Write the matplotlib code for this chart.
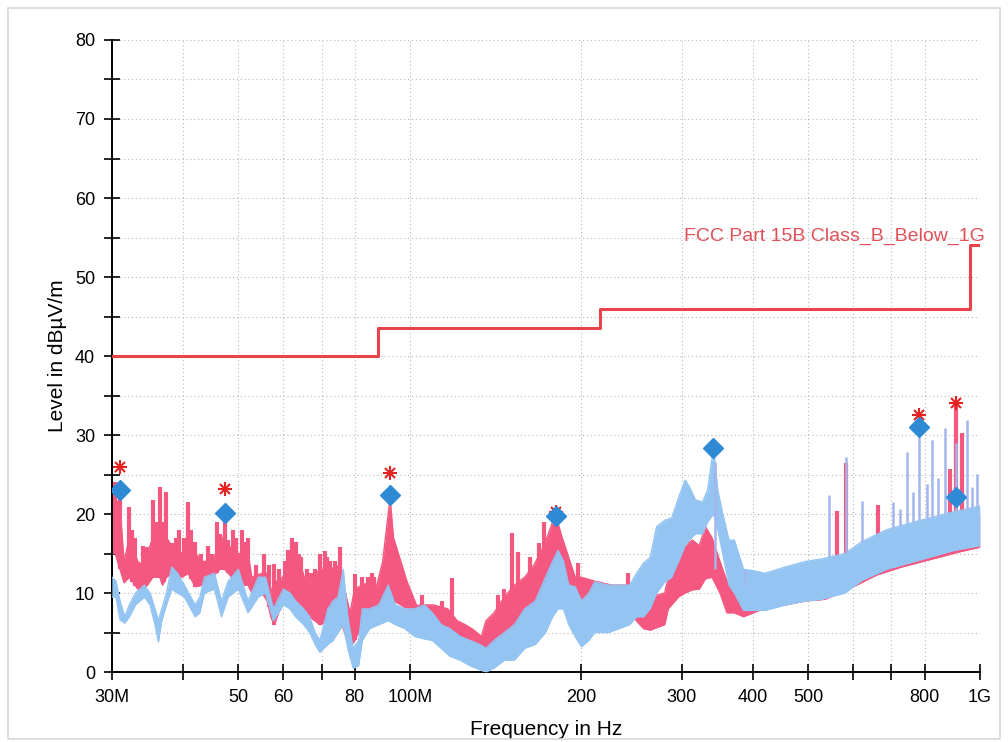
import numpy as np
import matplotlib
matplotlib.use("Agg")
import matplotlib.pyplot as plt
from matplotlib.ticker import NullLocator, FixedLocator
from matplotlib.patches import Rectangle

plt.rcParams['font.family'] = ['Liberation Sans', 'DejaVu Sans']

# ---- data (frequency in MHz, level in dBuV/m) ----
# horizontal trace (pink): noise floor envelope low / high
pink_f = [30.0, 30.4, 31.0, 31.5, 32.2, 33.3, 34.0, 34.6, 35.4, 36.4, 36.8, 37.4, 38.2,
          39.8, 40.8, 42.0, 43.3, 45.0, 46.4, 47.3, 48.0, 50.0, 52.0, 52.8, 55.0, 56.2,
          57.0, 57.8, 59.2, 60.3, 62.2, 64.4, 65.8, 66.7, 69.5, 72.3, 75.3, 76.8, 78.5,
          80.0, 82.5, 85.8, 87.5, 89.6, 91.6, 92.3, 93.6, 96.4, 98.8, 102.8, 105, 110,
          116.5, 121, 125, 129, 133.5, 136, 140.5, 146.5, 152.5, 159, 165, 172, 176, 180,
          185, 190, 195, 200, 211, 226, 241, 246, 257, 264, 280, 284, 296, 304, 313, 322,
          330, 339, 350, 360, 371, 385, 410, 449, 495, 535, 600, 660, 730, 845, 920, 1000]
pink_hi = [21, 22, 21, 14, 17, 14, 13.5, 15, 17, 17.5, 14, 17, 16,
           15, 17, 15, 14, 14, 16, 17.5, 16, 15, 15, 12, 12.5, 12.5,
           10, 11.5, 11.5, 12.5, 14, 13.5, 11, 11.5, 13, 13, 13.5, 10.5, 7.5,
           10.5, 11, 11.5, 11, 14, 20, 22, 17, 14, 11.5, 8.4, 8.5, 8.5,
           8, 6.5, 6, 5.4, 4.5, 6.5, 7.5, 9.5, 11, 12, 13.5, 16, 18, 20,
           17, 14.5, 12, 12, 11.5, 11, 11, 10.2, 10, 9.5, 10, 12, 14, 16, 16.7, 16,
           18.4, 17, 14, 11.5, 11, 10, 11, 12, 12.5, 13, 15, 16, 17, 18.5, 19.5, 20]
pink_lo = [16, 15, 13, 11.3, 12, 10.5, 10.5, 11, 12, 12, 11, 12, 12.5,
           12, 12.5, 10.8, 11, 12, 13, 13, 12.5, 11, 11, 10, 10, 9,
           7, 6, 8, 9, 9, 8, 7.5, 7, 6, 6.5, 7, 5, 3,
           4, 6, 7, 7, 8, 9, 10, 9, 8.5, 8, 6.5, 6, 5.5,
           4.5, 4, 3.5, 2.5, 2, 2.5, 3, 4, 5, 6, 7, 8.5, 10, 12,
           11, 9, 7.5, 8.4, 8.5, 8.5, 8, 7, 5.5, 5.3, 6, 8, 9.5, 10, 10.4, 10.5,
           11.8, 12, 10, 7.5, 7.5, 7, 7.8, 8.4, 9.0, 9.2, 10.8, 12.3, 13.3, 14.5, 15.2, 15.8]

# narrow spikes of the pink trace (tops)
pink_spike_f = [30.4, 31.0, 32.2, 32.6, 33.0, 34.0, 34.6, 35.4, 35.8, 36.4, 37.0, 37.4,
                38.2, 38.9, 39.3, 40.2, 40.8, 41.3, 42.0, 43.0, 44.2, 45.0, 45.8, 46.4,
                47.3, 48.0, 48.9, 49.5, 50.8, 51.5, 52.0, 53.8, 55.5, 56.5, 57.8, 59.0,
                60.3, 61.0, 62.2, 63.0, 63.8, 64.4, 66.0, 67.0, 68.2, 69.5, 70.9, 71.5,
                72.3, 73.8, 74.5, 75.3, 80.0, 82.5, 84.3, 85.8, 86.5,
                105, 114, 118.5, 142.5, 146.5, 151, 154.5, 162.5, 168.5, 172, 197, 241,
                561, 582, 662, 886, 908, 930]
pink_spike_v = [24, 22.6, 20.9, 18, 17, 16, 15.8, 21.8, 19, 23.4, 19, 22.8,
                16.3, 17, 18, 17, 21.5, 18, 16.4, 15, 16, 15, 19, 17.5,
                20, 16.7, 18, 17, 18, 16.5, 17, 13.5, 15, 13.5, 13.7, 13,
                14, 15.5, 17, 16.5, 15, 14.5, 13, 12.5, 13, 15, 15.3, 14.5,
                14, 14, 13, 15.8, 12.4, 12, 12, 12.5, 12,
                9.8, 9, 11.9, 9.8, 10.5, 17.6, 15.2, 14.6, 16.3, 19, 13.8, 12.5,
                20.4, 26.5, 21.1, 25.7, 34.0, 30.2]

# vertical trace (light blue): envelope low / high
blue_f = [30.0, 30.5, 31.0, 31.6, 32.2, 33.0, 33.6, 34.2, 35.0, 35.7, 36.2, 36.7, 37.4,
          38.2, 39.1, 40.2, 42.0, 42.8, 43.6, 45.4, 46.7, 48.0, 50.0, 52.0, 54.2, 55.8,
          57.6, 60.0, 61.6, 63.0, 65.1, 66.7, 68.2, 69.5, 71.8, 73.3, 74.8, 76.4, 77.8,
          79.5, 81.3, 82.5, 85.0, 88.2, 91.6, 94.3, 98.0, 102, 106, 109.5, 113.5, 117.5,
          122.5, 127.5, 132.5, 136, 140.5, 146.5, 152.5, 159, 166, 173, 178, 182, 186,
          190, 195, 200, 206, 211, 223, 233, 243, 250, 257, 264, 271, 280, 288, 296,
          304, 309, 317, 326, 333, 341, 347, 354, 363, 371, 385, 403, 420, 456, 495,
          527, 580, 621, 686, 787, 902, 1000]
blue_hi = [12, 11.5, 9, 7, 8.5, 10, 10.5, 11, 10, 8, 6.5, 8, 10,
           13.3, 12.5, 11, 8.5, 9.5, 12, 12.5, 9, 11.5, 13, 9, 12, 12,
           8, 10.5, 10, 9, 8, 7, 5, 4, 8, 9, 9.5, 13, 7,
           3, 4, 8, 8, 8.5, 11, 8.5, 8, 8, 8.5, 7.5, 6, 5.5,
           4.5, 4, 3.5, 3, 4, 5, 6, 8, 9, 12, 14, 15.4, 14,
           11, 10.8, 9, 10, 11.4, 11, 11, 11, 12.5, 13.8, 14.5, 18.4, 19.2, 19.5, 22,
           24.3, 23.5, 21.8, 21.5, 23, 28.4, 23, 20, 16.7, 16.7, 13, 12.8, 12.5, 13.3, 14,
           14.3, 15, 16.5, 18, 19.2, 20.3, 21]
blue_lo = [9.5, 9.5, 6.6, 6.2, 7, 8.5, 9, 9.5, 8.5, 6, 3.8, 6.5, 8.5,
           10.5, 10, 9.5, 7, 7.5, 10, 10.5, 7, 9.5, 10.5, 7.5, 9.5, 10,
           6.5, 8.5, 8, 7, 6, 5, 3.5, 2.5, 3.5, 4, 5, 6, 3,
           0.5, 0.8, 4, 5.5, 6, 6.5, 6, 5.5, 4.5, 4.2, 4, 3, 2,
           1.5, 0.8, 0.3, 0, 0.5, 1.5, 1.5, 3, 3.5, 5, 7, 8, 8,
           6, 4.5, 3.2, 4, 5, 5, 5.5, 6, 7, 7, 8, 10, 11.4, 12, 14,
           16, 16.7, 17.5, 17.5, 19, 20, 18, 15, 11, 10, 7.8, 7.8, 7.8, 8.5, 9,
           9.2, 10, 11.6, 13, 14.2, 15.4, 16]

# narrow harmonic spikes of the blue trace
blue_spike_f = [343, 388, 543, 582, 621, 704, 724, 744, 763, 781, 807, 824, 844, 868, 908, 949, 968, 988]
blue_spike_v = [13, 11, 22.4, 27.2, 21.6, 21.5, 20.6, 27.8, 22.8, 32.5, 23.8, 29.4, 24.5, 30.9, 29.0, 31.9, 23.4, 25.1]

# peak search (red asterisks) and final measurements (blue diamonds)
peak_f = [31.0, 47.3, 92.3, 180.3, 781, 908]
peak_v = [25.9, 23.2, 25.2, 20.3, 32.5, 34.0]
final_f = [31.0, 47.3, 92.3, 180.3, 341, 781, 908]
final_v = [23.0, 20.1, 22.4, 19.7, 28.4, 31.0, 22.2]

# FCC Part 15B class B limit
limit_f = [30, 88, 88, 216, 216, 960, 960, 1000]
limit_v = [40, 40, 43.5, 43.5, 46, 46, 54, 54]

xtick_vals = [30, 40, 50, 60, 70, 80, 100, 200, 300, 400, 500, 600, 700, 800, 1000]
xtick_labels = ['30M', '', '50', '60', '', '80', '100M', '200', '300', '400', '500', '', '', '800', '1G']

PINK = '#F4577F'
BLUE = '#93C4F2'

fig = plt.figure(figsize=(10.08, 7.42), dpi=100)
ax = fig.add_axes([0.111, 0.0943, 0.861, 0.8518])

fig.add_artist(Rectangle((0.008, 0.004), 0.984, 0.985, transform=fig.transFigure,
                         fill=False, edgecolor='#D8D8D8', linewidth=1.2))

# pink trace
ax.fill_between(pink_f, pink_lo, pink_hi, color=PINK, linewidth=0, zorder=2)
ax.plot(pink_f, pink_hi, color=PINK, lw=1.0, zorder=2)
ax.plot(pink_f, pink_lo, color=PINK, lw=1.0, zorder=2)
pbase = np.interp(np.log10(pink_spike_f), np.log10(pink_f), pink_lo)
ax.vlines(pink_spike_f, pbase, pink_spike_v, color=PINK, lw=3.0, zorder=2)

# blue trace
ax.fill_between(blue_f, blue_lo, blue_hi, color=BLUE, linewidth=0, zorder=3)
ax.plot(blue_f, blue_hi, color=BLUE, lw=1.0, zorder=3)
ax.plot(blue_f, blue_lo, color=BLUE, lw=1.0, zorder=3)
bbase = np.interp(np.log10(blue_spike_f), np.log10(blue_f), blue_hi)
ax.vlines(blue_spike_f, bbase, blue_spike_v, color='#A3B6EC', lw=1.8, zorder=3)

# limit
ax.plot(limit_f, limit_v, color='#E8424A', lw=2.2, zorder=4)
ax.annotate('FCC Part 15B Class_B_Below_1G', xy=(1000, 55.2), xytext=(4, 0),
            textcoords='offset points', ha='right', va='center',
            color='#E0505A', fontsize=14, zorder=5)

# markers
ax.plot(peak_f, peak_v, linestyle='none', marker='+', ms=10, mew=1.5, color='#E52222', zorder=5)
ax.plot(peak_f, peak_v, linestyle='none', marker='x', ms=7, mew=1.5, color='#E52222', zorder=5)
ax.plot(final_f, final_v, linestyle='none', marker='D', ms=10.5, color='#2F8AD6', zorder=6)

ax.set_xscale('log')
ax.set_xlim(30, 1000)
ax.set_ylim(0, 80)
ax.xaxis.set_major_locator(FixedLocator(xtick_vals))
ax.xaxis.set_minor_locator(NullLocator())
ax.set_xticklabels(xtick_labels)
ax.set_yticks(np.arange(0, 81, 10))
ax.set_yticks(np.arange(5, 80, 10), minor=True)

ax.grid(True, which='both', linestyle=(0, (1, 2.5)), color='#B8B8B8', lw=0.8, zorder=0)
ax.set_axisbelow(True)

for s in ['top', 'right']:
    ax.spines[s].set_visible(False)
for s in ['left', 'bottom']:
    ax.spines[s].set_linewidth(1.4)
ax.tick_params(which='both', direction='inout', length=12, width=1.2, labelsize=13, pad=6)

ax.set_xlabel('Frequency in Hz', fontsize=15, labelpad=10)
ax.set_ylabel('Level in dB\u00b5V/m', fontsize=15, labelpad=6)

fig.savefig('out.png', dpi=100)
